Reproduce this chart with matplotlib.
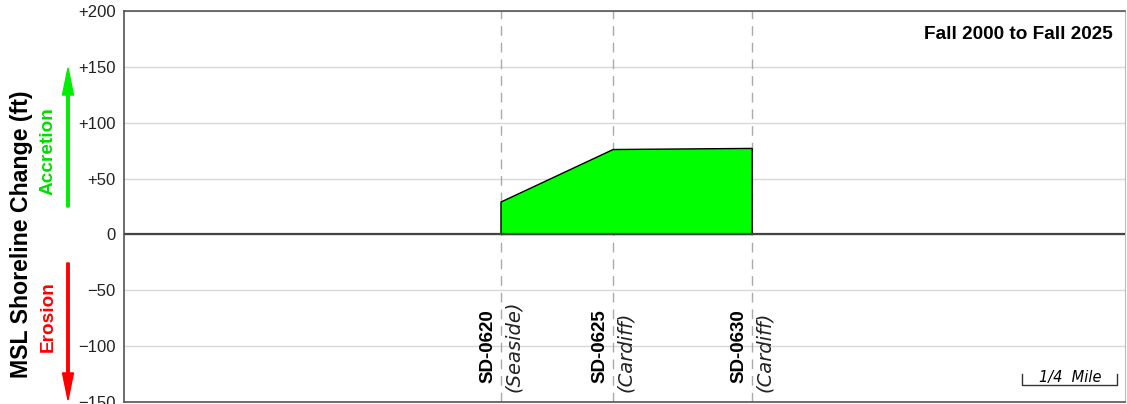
import numpy as np
import matplotlib.pyplot as plt
from matplotlib.patches import FancyArrow

# transects (position along coast in miles) and shoreline change (ft)
transects = ['SD-0620', 'SD-0625', 'SD-0630']
places = ['(Seaside)', '(Cardiff)', '(Cardiff)']
position_mi = [0.992, 1.287, 1.653]
change_ft = [29, 76, 77]
yticks = [-150, -100, -50, 0, 50, 100, 150, 200]
ytick_labels = ['\u2212150', '\u2212100', '\u221250', '0', '+50', '+100', '+150', '+200']

plt.rcParams['font.family'] = ['Liberation Sans', 'DejaVu Sans']

fig = plt.figure(figsize=(11.27, 4.04), dpi=100)
ax = fig.add_axes([124 / 1127, 2 / 404, 1001 / 1127, 391 / 404])
ax.set_xlim(0, 2.634)
ax.set_ylim(-149, 200)

# grid
ax.set_yticks(yticks)
ax.set_yticklabels(ytick_labels, fontsize=12, color='#222222')
ax.set_xticks([])
ax.tick_params(axis='y', length=0, pad=6)
ax.grid(axis='y', color='#d8d8d8', linewidth=1)
ax.set_axisbelow(True)

for s in ['left', 'top', 'bottom']:
    ax.spines[s].set_color('#555555')
    ax.spines[s].set_linewidth(1.2)
ax.spines['right'].set_color('#bbbbbb')
ax.axhline(0, color='#444444', linewidth=1.6, zorder=3)

# transect lines
for x in position_mi:
    ax.axvline(x, color='#aaaaaa', linestyle=(0, (7, 5)), linewidth=1, zorder=1)

# change polygon
px = [position_mi[0]] + position_mi + [position_mi[-1]]
py = [0] + change_ft + [0]
ax.fill(px, py, facecolor='#00ff00', edgecolor='black', linewidth=1, zorder=2)

# labels for transects
for x, name, place in zip(position_mi, transects, places):
    ax.annotate(name, (x, -149), xytext=(-3.5, 13), textcoords='offset points',
                rotation=90, ha='right', va='bottom', fontsize=13.5,
                fontweight='bold', color='black')
    ax.annotate(place, (x, -149), xytext=(2, 6.5), textcoords='offset points',
                rotation=90, ha='left', va='bottom', fontsize=14,
                fontstyle='italic', family='DejaVu Sans', color='#222222',
                fontweight='light')

ax.text(0.988, 0.94, 'Fall 2000 to Fall 2025', transform=ax.transAxes,
        ha='right', va='center', fontsize=13.7, fontweight='bold')

# scale bar (1/4 mile)
sb0, sb1 = 2.364, 2.614
ax.plot([sb0, sb0, sb1, sb1], [-125, -135, -135, -125], color='#333333', linewidth=1)
ax.text((sb0 + sb1) / 2, -128, '1/4  Mile', ha='center', va='center',
        fontsize=10.5, fontstyle='italic', family='DejaVu Sans')

# y label and accretion / erosion arrows
fig.text(22 / 1127, 1 - 234 / 404, 'MSL Shoreline Change (ft)', rotation=90,
         ha='center', va='center', fontsize=16.7, fontweight='bold')
fig.text(48 / 1127, 1 - 151 / 404, 'Accretion', rotation=90, ha='center',
         va='center', fontsize=13.7, fontweight='bold', color='#00dd00')
fig.text(48 / 1127, 1 - 317 / 404, 'Erosion', rotation=90, ha='center',
         va='center', fontsize=13.7, fontweight='bold', color='#ff0000')
fig.add_artist(FancyArrow(68 / 1127, 1 - 207 / 404, 0, 139 / 404, width=0.0022,
                          head_width=0.0098, head_length=0.067,
                          length_includes_head=True, color='#00ee00',
                          transform=fig.transFigure))
fig.add_artist(FancyArrow(68 / 1127, 1 - 263 / 404, 0, -137 / 404, width=0.0022,
                          head_width=0.0098, head_length=0.067,
                          length_includes_head=True, color='#ff0000',
                          transform=fig.transFigure))

fig.savefig('out.png', dpi=100)
